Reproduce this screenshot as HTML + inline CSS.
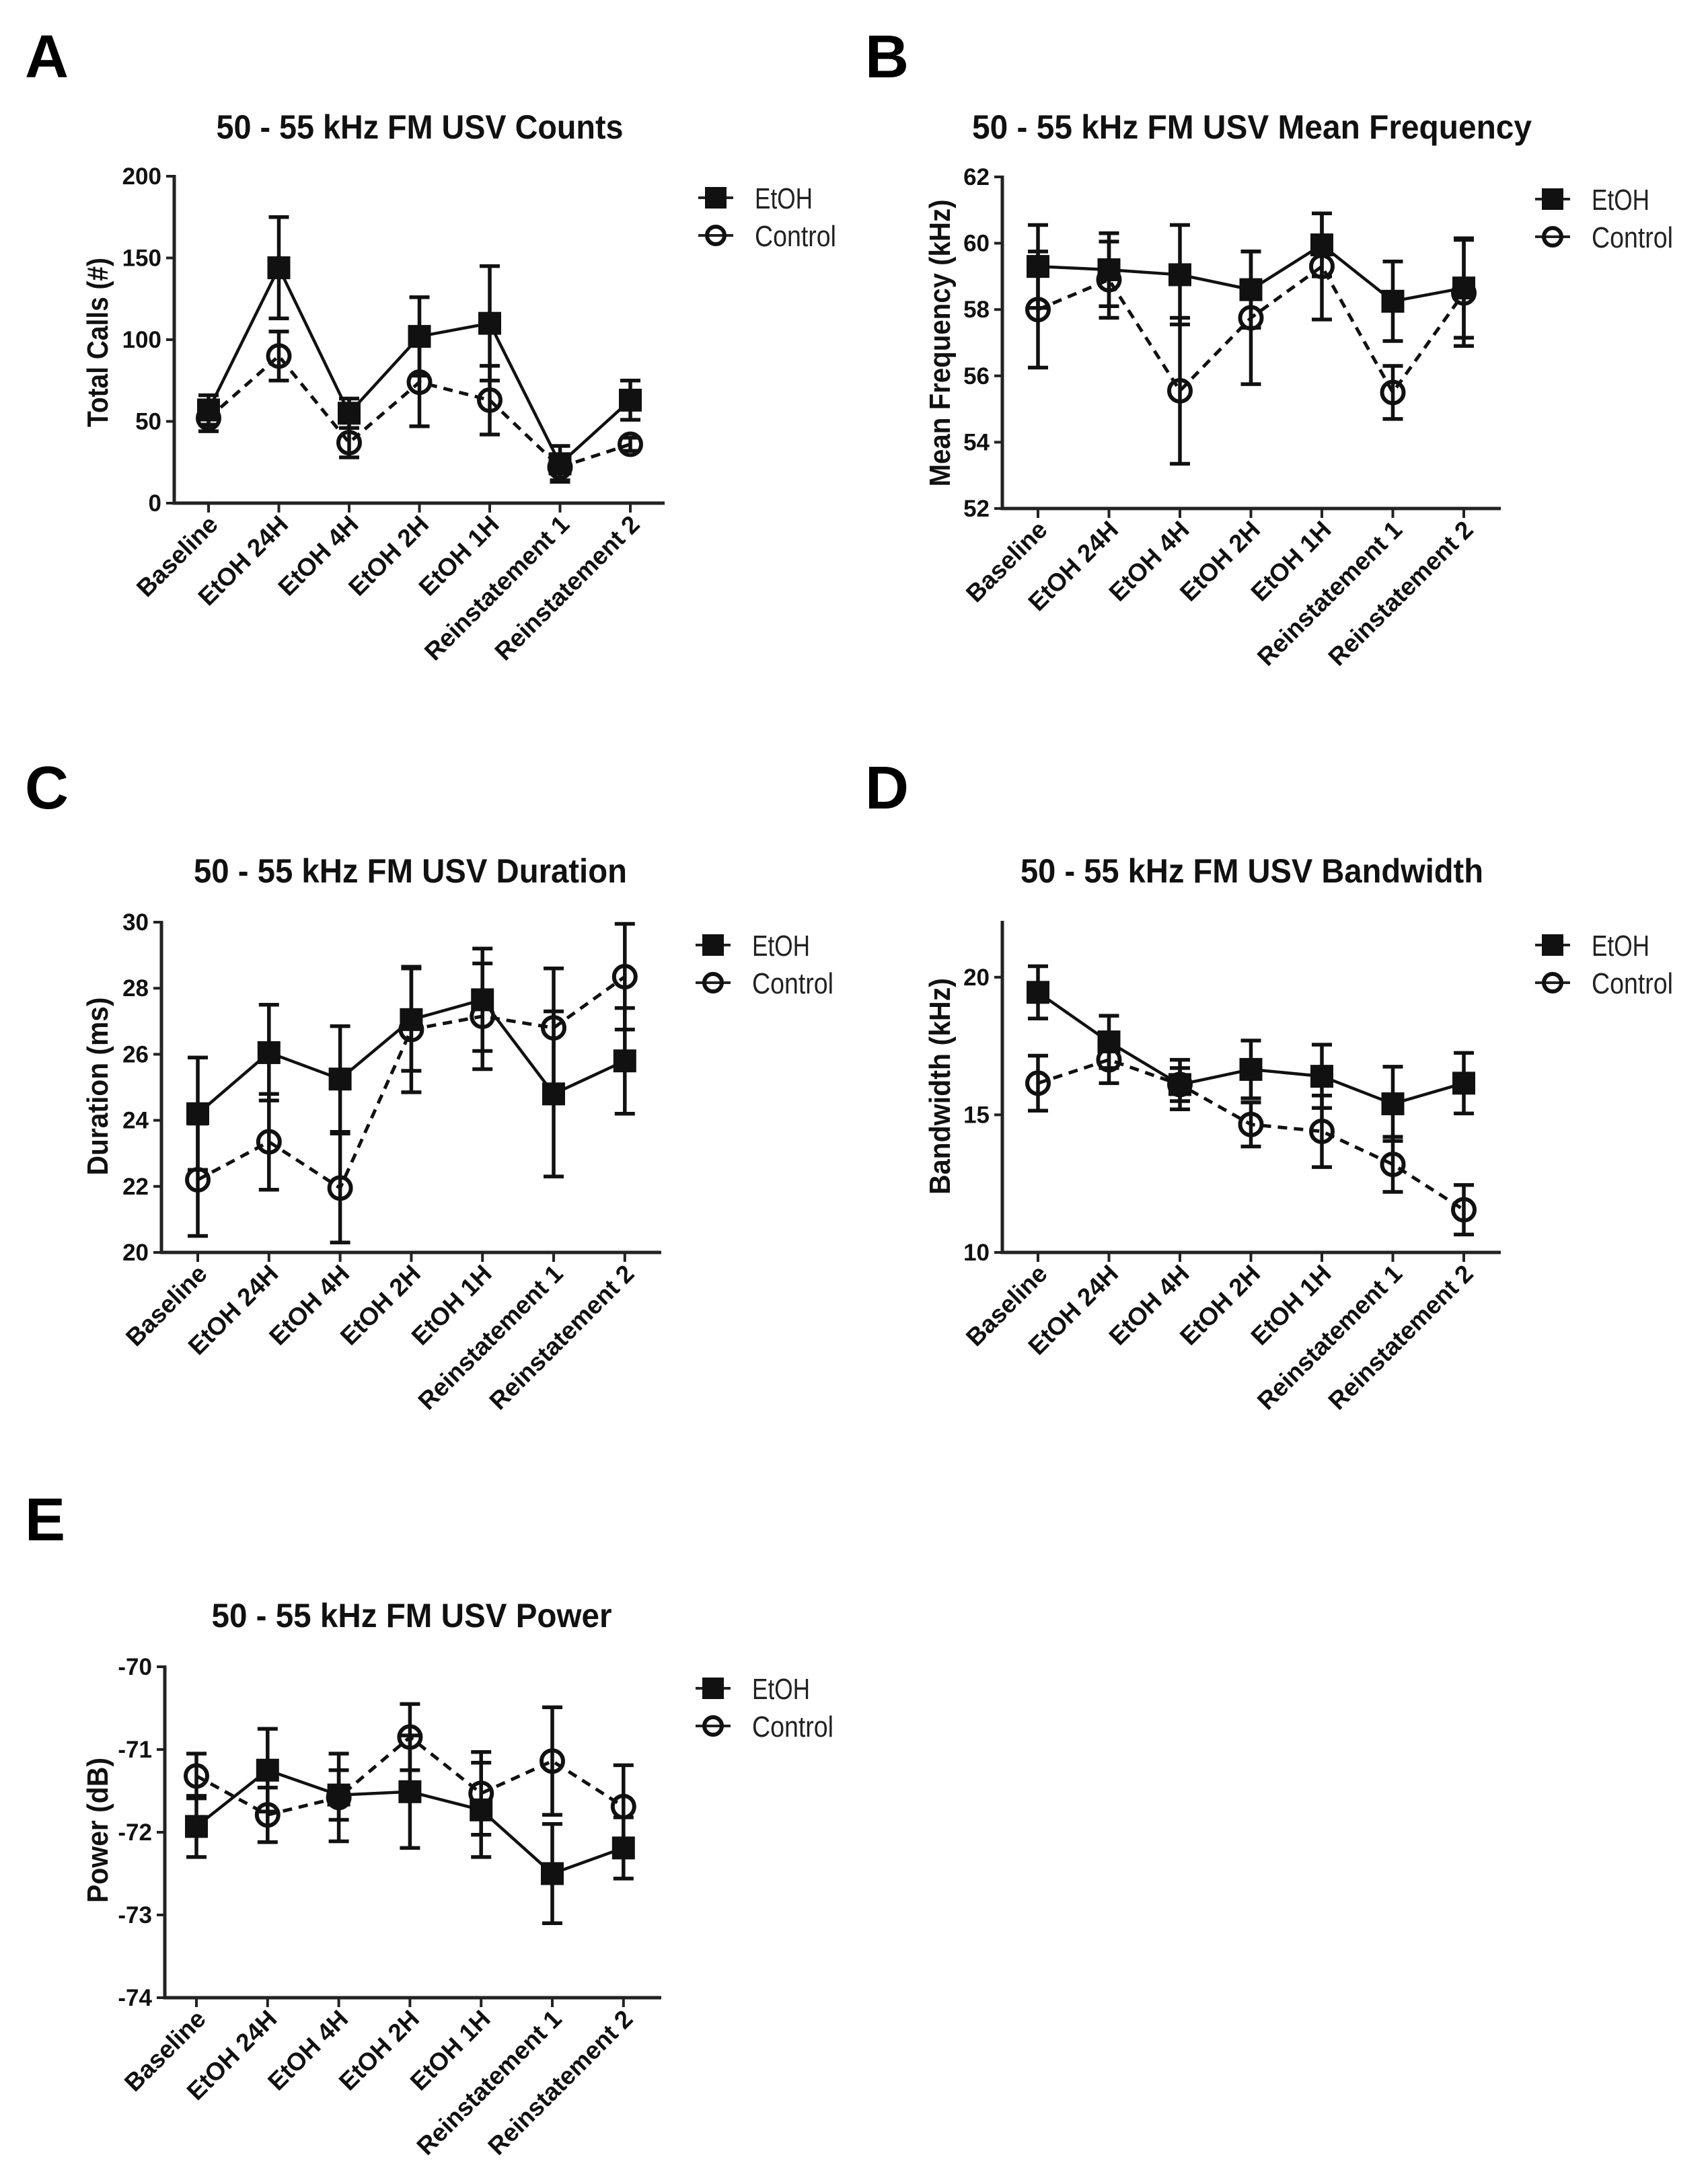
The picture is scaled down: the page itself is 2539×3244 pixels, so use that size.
<!DOCTYPE html>
<html><head><meta charset="utf-8"><style>
html,body{margin:0;padding:0;background:#fff;}
svg{display:block;font-family:"Liberation Sans",Arial,sans-serif;}
</style></head><body>
<svg id="fig" width="2539" height="3244" viewBox="0 0 2539 3244" xmlns="http://www.w3.org/2000/svg"></svg>
<script>
// ---- data ----
const categories = ["Baseline","EtOH 24H","EtOH 4H","EtOH 2H","EtOH 1H","Reinstatement 1","Reinstatement 2"];
// A counts
const countsEtoh = [57,144,55,102,110,24,63];
const countsEtohErr = [9,31,9,24,35,11,12];
const countsCtrl = [52,90,37,74,63,22,36];
const countsCtrlErr = [8,15,9,27,21,8,4];
const countsTicks = [0,50,100,150,200];
// B mean frequency
const freqEtoh = [59.3,59.2,59.05,58.6,59.95,58.25,58.65];
const freqEtohErr = [1.25,1.1,1.5,1.15,0.95,1.2,1.5];
const freqCtrl = [58.0,58.9,55.55,57.75,59.3,55.5,58.5];
const freqCtrlErr = [1.75,1.15,2.2,2.0,1.6,0.8,1.6];
const freqTicks = [52,54,56,58,60,62];
// C duration
const durEtoh = [24.2,26.05,25.25,27.05,27.65,24.8,25.8];
const durEtohErr = [1.7,1.45,1.6,1.55,1.55,2.5,1.6];
const durCtrl = [22.2,23.35,21.95,26.75,27.15,26.8,28.35];
const durCtrlErr = [1.7,1.45,1.65,1.9,1.6,1.8,1.6];
const durTicks = [20,22,24,26,28,30];
// D bandwidth
const bwEtoh = [19.45,17.65,16.1,16.65,16.4,15.4,16.15];
const bwEtohErr = [0.95,0.95,0.9,1.05,1.15,1.35,1.1];
const bwCtrl = [16.15,17.0,16.1,14.65,14.4,13.2,11.55];
const bwCtrlErr = [1.0,0.85,0.6,0.8,1.3,1.0,0.9];
const bwTicks = [10,15,20];
// E power
const powEtoh = [-71.93,-71.25,-71.55,-71.51,-71.73,-72.5,-72.19];
const powEtohErr = [0.37,0.5,0.3,0.68,0.57,0.6,0.37];
const powCtrl = [-71.32,-71.79,-71.58,-70.85,-71.53,-71.14,-71.69];
const powCtrlErr = [0.27,0.33,0.53,0.4,0.5,0.65,0.5];
const powTicks = [-74,-73,-72,-71,-70];

const NS = "http://www.w3.org/2000/svg";
const svg = document.getElementById('fig');
function el(tag, attrs, parent, text){
  const e = document.createElementNS(NS, tag);
  for (const k in attrs) e.setAttribute(k, attrs[k]);
  if (text !== undefined) e.textContent = text;
  (parent||svg).appendChild(e);
  return e;
}

function panel(cfg, eVals, eErr, cVals, cErr, ticks){
  const g = el('g', {});
  
  
  const ys = v => cfg.yBot - (v - cfg.ymin) / (cfg.ymax - cfg.ymin) * (cfg.yBot - cfg.yTop);
  const xs = i => cfg.cx0 + i * cfg.step;

  const L = el('text', {x: cfg.lx, y: cfg.ly, 'font-size': 90, 'font-weight': 'bold'}, g, cfg.letter);
  
  
  const T = el('text', {x: cfg.tx, y: cfg.ty, 'font-size': 50, 'font-weight': 'bold', 'text-anchor': 'middle', textLength: cfg.tw, lengthAdjust: 'spacingAndGlyphs', fill: '#111'}, g, cfg.title);
  
  
  const Y = el('text', {x: 0, y: 0, 'font-size': 44, 'font-weight': 'bold', 'text-anchor': 'middle', textLength: cfg.yw, lengthAdjust: 'spacingAndGlyphs', fill: '#111', transform: `translate(${cfg.ylx},${cfg.yly}) rotate(-90)`}, g, cfg.ylabel);
  
  

  const ax = el('path', {d: `M${cfg.ax} ${cfg.yTop-2}V${cfg.yBot}H${cfg.xEnd}`, stroke: '#222', 'stroke-width': 5, fill: 'none'}, g);
  
  
  ticks.forEach(t => {
    const y = ys(t);
    const tk = el('line', {x1: cfg.ax - 12, x2: cfg.ax, y1: y, y2: y, stroke: '#222', 'stroke-width': 4}, g);
    
    
    const tl = el('text', {x: cfg.ax - 19, y: y + 12, 'font-size': 35, 'font-weight': 'bold', 'text-anchor': 'end', fill: '#111'}, g, String(t));
    
    
  });
  categories.forEach((c, i) => {
    const x = xs(i);
    const tk = el('line', {x1: x, x2: x, y1: cfg.yBot, y2: cfg.yBot + 14, stroke: '#222', 'stroke-width': 4}, g);
    
    
    const tl = el('text', {x: 0, y: 0, 'font-size': 37, 'font-weight': 'bold', 'text-anchor': 'end', fill: '#111', transform: `translate(${x+16},${cfg.yBot+34}) rotate(-45)`}, g, c);
    
    
  });

  function series(vals, errs, dashed, name){
    const sg = el('g', {}, g);
    
    
    const d = vals.map((v, i) => (i ? 'L' : 'M') + xs(i) + ' ' + ys(v)).join('');
    const ln = el('path', {d, stroke: '#111', 'stroke-width': dashed ? 5 : 4.5, fill: 'none', 'stroke-dasharray': dashed ? '14 10' : 'none'}, sg);
    
    
    vals.forEach((v, i) => {
      const x = xs(i), hi = ys(Math.min(v + errs[i], cfg.ymax)), lo = ys(v - errs[i]);
      const eb = el('path', {d: `M${x} ${hi}V${lo}M${x-15} ${hi}H${x+15}M${x-15} ${lo}H${x+15}`, stroke: '#111', 'stroke-width': 5.5, fill: 'none'}, sg);
      
      
    });
    vals.forEach((v, i) => {
      const x = xs(i), y = ys(v);
      let m;
      if (dashed) m = el('circle', {cx: x, cy: y, r: 16, fill: 'none', stroke: '#111', 'stroke-width': 6}, sg);
      else m = el('rect', {x: x - 17, y: y - 17, width: 34, height: 34, fill: '#111'}, sg);
      
      
    });
  }
  series(cVals, cErr, true, 'control');
  series(eVals, eErr, false, 'etoh');

  const lg = el('g', {}, g);
  
  
  const mx = cfg.legX, y1 = cfg.legY, y2 = cfg.legY + 56;
  const l1 = el('g', {}, lg);
  
  
  el('line', {x1: mx - 26, x2: mx + 26, y1: y1, y2: y1, stroke: '#222', 'stroke-width': 4}, l1);
  el('rect', {x: mx - 16, y: y1 - 16, width: 32, height: 32, fill: '#111'}, l1);
  el('text', {x: mx + 58, y: y1 + 16, 'font-size': 44, textLength: 86, lengthAdjust: 'spacingAndGlyphs', fill: '#222'}, l1, 'EtOH');
  const l2 = el('g', {}, lg);
  
  
  el('line', {x1: mx - 26, x2: mx + 26, y1: y2, y2: y2, stroke: '#222', 'stroke-width': 4}, l2);
  el('circle', {cx: mx, cy: y2, r: 13, fill: 'none', stroke: '#111', 'stroke-width': 6}, l2);
  el('text', {x: mx + 58, y: y2 + 16, 'font-size': 44, textLength: 121, lengthAdjust: 'spacingAndGlyphs', fill: '#222'}, l2, 'Control');
}

panel({letter:'A', lx:37, ly:115, title:'50 - 55 kHz FM USV Counts', tx:624, ty:206, tw:605,
  ylabel:'Total Calls (#)', ylx:160, yly:509, yw:252,
  ax:259, xEnd:988, yTop:262, yBot:748, ymin:0, ymax:200, cx0:310, step:104.5, legX:1064, legY:294},
  countsEtoh, countsEtohErr, countsCtrl, countsCtrlErr, countsTicks);
panel({letter:'B', lx:1286, ly:115, title:'50 - 55 kHz FM USV Mean Frequency', tx:1861, ty:206, tw:832,
  ylabel:'Mean Frequency (kHz)', ylx:1412, yly:510, yw:427,
  ax:1490, xEnd:2231, yTop:263, yBot:756, ymin:52, ymax:62, cx0:1543, step:105.5, legX:2308, legY:296},
  freqEtoh, freqEtohErr, freqCtrl, freqCtrlErr, freqTicks);
panel({letter:'C', lx:37, ly:1202, title:'50 - 55 kHz FM USV Duration', tx:610, ty:1312, tw:644,
  ylabel:'Duration (ms)', ylx:160, yly:1615, yw:265,
  ax:240, xEnd:983, yTop:1371, yBot:1862, ymin:20, ymax:30, cx0:294, step:105.8, legX:1060, legY:1405},
  durEtoh, durEtohErr, durCtrl, durCtrlErr, durTicks);
panel({letter:'D', lx:1286, ly:1202, title:'50 - 55 kHz FM USV Bandwidth', tx:1861, ty:1312, tw:688,
  ylabel:'Bandwidth (kHz)', ylx:1412, yly:1615, yw:322,
  ax:1490, xEnd:2231, yTop:1371, yBot:1862, ymin:10, ymax:22, cx0:1543, step:105.5, legX:2308, legY:1405},
  bwEtoh, bwEtohErr, bwCtrl, bwCtrlErr, bwTicks);
panel({letter:'E', lx:37, ly:2290, title:'50 - 55 kHz FM USV Power', tx:612, ty:2419, tw:595,
  ylabel:'Power (dB)', ylx:160, yly:2721, yw:216,
  ax:245, xEnd:983, yTop:2478, yBot:2970, ymin:-74, ymax:-70, cx0:292, step:105.8, legX:1060, legY:2510},
  powEtoh, powEtohErr, powCtrl, powCtrlErr, powTicks);
</script>
</body></html>
